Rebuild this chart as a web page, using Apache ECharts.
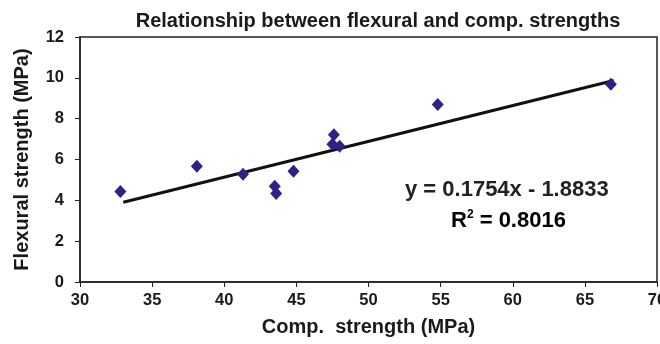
<!DOCTYPE html>
<html>
<head>
<meta charset="utf-8">
<script src="https://cdn.jsdelivr.net/npm/echarts@6/dist/echarts.min.js"></script>
<style>
  html, body { margin: 0; padding: 0; background: #fff; }
  #chart { width: 660px; height: 344px; }
</style>
</head>
<body>
<div id="chart"></div>
<script>
// compressive strength (MPa) vs flexural strength (MPa)
var compStrength = [32.8, 38.1, 41.3, 43.5, 43.6, 44.8, 47.6, 47.5, 48.0, 54.8, 66.8];
var flexStrength = [4.43, 5.67, 5.28, 4.69, 4.33, 5.43, 7.21, 6.75, 6.65, 8.70, 9.69];
// trend line, as printed on the chart
var slope = 0.1754;
var intercept = -1.8833;
var trendX = [33.0, 67.0];

var chart = echarts.init(document.getElementById('chart'));
var font = 'Liberation Sans, Arial, sans-serif';

var points = compStrength.map(function (x, i) { return [x, flexStrength[i]]; });
var trend = trendX.map(function (x) { return [x, slope * x + intercept]; });

var option = {
    animation: false,
    title: {
        text: 'Relationship between flexural and comp. strengths',
        left: 373,
        top: 6,
        textAlign: 'center',
        textStyle: { fontFamily: font, fontSize: 20, fontWeight: 'bold', color: '#1a1a1a' }
    },
    grid: {
        left: 80, right: 3, top: 37, bottom: 62,
        outerBoundsMode: 'none',
        containLabel: false,
        show: true, borderColor: '#222', borderWidth: 1.5
    },
    xAxis: {
        type: 'value', min: 30, max: 70, interval: 5,
        name: 'Comp.  strength (MPa)',
        nameLocation: 'middle', nameGap: 35,
        nameTextStyle: { fontFamily: font, fontSize: 20, fontWeight: 'bold', color: '#1a1a1a' },
        axisLine: { lineStyle: { color: '#222', width: 1.5 } },
        axisTick: { inside: false, length: 5, lineStyle: { color: '#222' } },
        axisLabel: { fontFamily: font, fontSize: 16.5, fontWeight: 'bold', color: '#1a1a1a', margin: 10 },
        splitLine: { show: false }
    },
    yAxis: {
        type: 'value', min: 0, max: 12, interval: 2,
        name: 'Flexural strength (MPa)',
        nameLocation: 'middle', nameGap: 48,
        nameTextStyle: { fontFamily: font, fontSize: 20, fontWeight: 'bold', color: '#1a1a1a' },
        axisLine: { show: true, lineStyle: { color: '#222', width: 1.5 } },
        axisTick: { show: true, inside: false, length: 5, lineStyle: { color: '#222' } },
        axisLabel: { fontFamily: font, fontSize: 16.5, fontWeight: 'bold', color: '#1a1a1a', margin: 16 },
        splitLine: { show: false }
    },
    series: [
        {
            type: 'line',
            data: trend,
            symbol: 'none',
            lineStyle: { color: '#111', width: 3 },
            z: 2
        },
        {
            type: 'scatter',
            data: points,
            symbol: 'diamond',
            symbolSize: [12, 13],
            itemStyle: { color: '#2E2286', opacity: 1 },
            z: 3
        }
    ],
    graphic: [
        {
            type: 'text',
            left: 405, top: 179,
            style: {
                text: 'y = 0.1754x - 1.8833',
                fontFamily: font, fontSize: 22, fontWeight: 'bold', fill: '#222'
            }
        },
        {
            type: 'text',
            left: 451, top: 209,
            style: {
                text: '{b|R}{s|2}{b| = 0.8016}',
                rich: {
                    b: { fontFamily: font, fontSize: 22, fontWeight: 'bold', color: '#222' },
                    s: { fontFamily: font, fontSize: 12, fontWeight: 'bold', color: '#222', verticalAlign: 'top', padding: [0, 0, 12, 0] }
                }
            }
        }
    ]
};

chart.setOption(option);
</script>
</body>
</html>
